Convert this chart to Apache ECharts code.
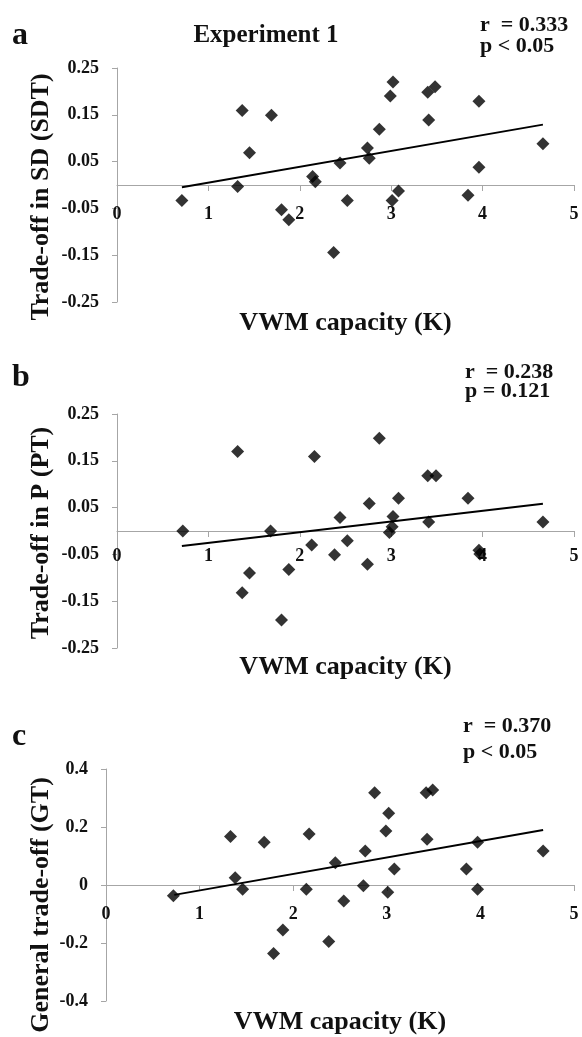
<!DOCTYPE html>
<html>
<head>
<meta charset="utf-8">
<script src="https://cdn.jsdelivr.net/npm/echarts@6/dist/echarts.min.js"></script>
<style>
  html, body { margin: 0; padding: 0; background: #fff; }
  #chart { width: 582px; height: 1037px; }
</style>
</head>
<body>
<div id="chart"></div>
<script>
// values: [VWM capacity K, trade-off]
const sdtPoints = [
  [0.71, -0.033], [1.32, -0.003], [1.37, 0.159], [1.45, 0.069], [1.69, 0.149],
  [1.80, -0.053], [1.88, -0.074], [2.14, 0.018], [2.17, 0.007], [2.37, -0.144],
  [2.44, 0.047], [2.52, -0.033], [2.74, 0.079], [2.76, 0.057], [2.87, 0.119],
  [2.99, 0.190], [3.02, 0.220], [3.01, -0.033], [3.08, -0.013], [3.40, 0.198],
  [3.48, 0.210], [3.41, 0.139], [3.84, -0.022], [3.96, 0.179], [3.96, 0.038],
  [4.66, 0.088]
]
const ptPoints = [
  [0.72, 0.000], [1.32, 0.170], [1.68, 0.000], [2.16, 0.159], [2.44, 0.029],
  [2.76, 0.059], [2.87, 0.198], [3.02, 0.031], [3.01, 0.009], [2.98, -0.003],
  [3.08, 0.070], [3.40, 0.118], [3.49, 0.118], [3.41, 0.019], [3.84, 0.070],
  [4.66, 0.019], [1.45, -0.090], [1.37, -0.132], [1.80, -0.190], [1.88, -0.082],
  [2.13, -0.030], [2.38, -0.051], [2.52, -0.021], [2.74, -0.071], [3.96, -0.041],
  [3.97, -0.049]
]
const gtPoints = [
  [0.72, -0.037], [1.33, 0.167], [1.38, 0.025], [1.46, -0.015], [1.69, 0.147],
  [2.14, -0.015], [2.17, 0.176], [2.45, 0.077], [2.54, -0.055], [2.75, -0.003],
  [2.77, 0.117], [2.87, 0.318], [2.99, 0.186], [3.02, 0.247], [3.01, -0.025],
  [3.08, 0.055], [3.42, 0.318], [3.49, 0.328], [3.43, 0.158], [3.85, 0.055],
  [3.97, 0.147], [3.97, -0.015], [4.67, 0.117], [1.89, -0.155], [1.79, -0.236],
  [2.38, -0.195]
]

// fitted trend lines (end points)
const sdtTrend = [[0.71, -0.005], [4.66, 0.129]]
const ptTrend = [[0.71, -0.032], [4.66, 0.058]]
const gtTrend = [[0.73, -0.034], [4.67, 0.190]]

const panelLetters = ['a', 'b', 'c']
const yTitles = ['Trade-off in SD (SDT)', 'Trade-off in P (PT)', 'General trade-off (GT)']
const xTitle = 'VWM capacity (K)'
const statsR = ['r  = 0.333', 'r  = 0.238', 'r  = 0.370']
const statsP = ['p < 0.05', 'p = 0.121', 'p < 0.05']

const serif = '"Liberation Serif", "Times New Roman", serif'
const axisGray = '#a6a6a6'

const grids = [
  { left: 117, width: 457, top: 68, height: 234 },
  { left: 117, width: 457, top: 414, height: 234 },
  { left: 106, width: 468, top: 769, height: 232 }
]
const yRanges = [
  { min: -0.25, max: 0.25, interval: 0.1, digits: 2 },
  { min: -0.25, max: 0.25, interval: 0.1, digits: 2 },
  { min: -0.4, max: 0.4, interval: 0.2, digits: 1 }
]
// labels are laid out from the grid bottom, pull them up under the zero line
const xLabelMargin = [-97, -101, -96]

function xAxisFor(i) {
  return {
    type: 'value',
    gridIndex: i,
    min: 0,
    max: 5,
    interval: 1,
    axisLine: { onZero: true, lineStyle: { color: axisGray, width: 1 } },
    axisTick: { show: true, length: 6, lineStyle: { color: axisGray } },
    axisLabel: {
      margin: xLabelMargin[i],
      color: '#111',
      fontFamily: serif,
      fontWeight: 'bold',
      fontSize: 18
    },
    splitLine: { show: false }
  }
}

function yAxisFor(i) {
  const r = yRanges[i]
  return {
    type: 'value',
    gridIndex: i,
    min: r.min,
    max: r.max,
    interval: r.interval,
    axisLine: { show: true, lineStyle: { color: axisGray, width: 1 } },
    axisTick: { show: true, length: 5, lineStyle: { color: axisGray } },
    axisLabel: {
      margin: 18,
      color: '#111',
      fontFamily: serif,
      fontWeight: 'bold',
      fontSize: 18,
      formatter: v => {
        const s = Number(v).toFixed(r.digits)
        return Math.abs(v) < 1e-9 ? '0' : s
      }
    },
    splitLine: { show: false }
  }
}

function scatterFor(i, data) {
  return {
    type: 'scatter',
    xAxisIndex: i,
    yAxisIndex: i,
    data,
    symbol: 'diamond',
    symbolSize: 13,
    itemStyle: { color: '#000' },
    z: 3
  }
}

function trendFor(i, data) {
  return {
    type: 'line',
    xAxisIndex: i,
    yAxisIndex: i,
    data,
    symbol: 'none',
    lineStyle: { color: '#000', width: 2 },
    z: 4
  }
}

function text(str, x, y, size, opts) {
  return Object.assign({
    type: 'text',
    x,
    y,
    style: {
      text: str,
      font: `bold ${size}px ${serif}`,
      fill: '#111',
      textAlign: 'left',
      textVerticalAlign: 'middle'
    }
  }, opts || {})
}

const letterY = [36, 378, 737]
const yTitleY = [197, 533, 905]
const xTitleY = [323, 667, 1022]
const statsX = [480, 465, 463]
const statsRY = [25, 372, 726]
const statsPY = [46, 391, 752]

const graphic = []
for (let i = 0; i < 3; i++) {
  const g = grids[i]
  graphic.push(text(panelLetters[i], 12, letterY[i], 32))
  const yt = text(yTitles[i], 41, yTitleY[i], 26, { rotation: Math.PI / 2 })
  yt.style.textAlign = 'center'
  graphic.push(yt)
  const xt = text(xTitle, g.left + g.width / 2, xTitleY[i], 26)
  xt.style.textAlign = 'center'
  graphic.push(xt)
  graphic.push(text(statsR[i], statsX[i], statsRY[i], 22))
  graphic.push(text(statsP[i], statsX[i], statsPY[i], 22))
}
const title = text('Experiment 1', 266, 36, 25)
title.style.textAlign = 'center'
graphic.push(title)

const chart = echarts.init(document.getElementById('chart'))
chart.setOption({
  animation: false,
  backgroundColor: '#fff',
  grid: grids,
  xAxis: [0, 1, 2].map(xAxisFor),
  yAxis: [0, 1, 2].map(yAxisFor),
  series: [
    scatterFor(0, sdtPoints), trendFor(0, sdtTrend),
    scatterFor(1, ptPoints), trendFor(1, ptTrend),
    scatterFor(2, gtPoints), trendFor(2, gtTrend)
  ],
  graphic
})
</script>
</body>
</html>
